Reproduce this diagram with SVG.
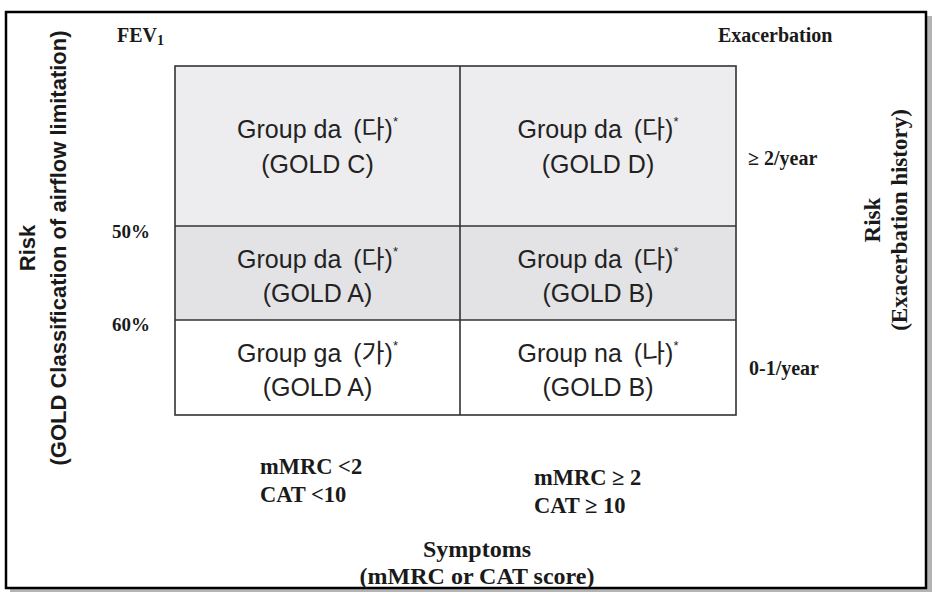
<svg xmlns="http://www.w3.org/2000/svg" width="932" height="592" viewBox="0 0 932 592">
<style>
.cell{font-family:"Liberation Sans","Noto Sans CJK KR",sans-serif;font-size:25px;fill:#222;text-anchor:middle}
.ast{font-size:13px}
.ser{font-family:"Liberation Serif","Times New Roman",serif;font-weight:bold;fill:#1a1a1a}
.axl{font-family:"Liberation Sans",Arial,sans-serif;font-weight:bold;font-size:22px;fill:#1a1a1a;text-anchor:middle}
.grid{stroke:#333;stroke-width:1.6;fill:none}
</style>
<rect x="0" y="0" width="932" height="592" fill="#fff"/>
<rect x="10" y="16" width="922" height="576" fill="#b4b4b4"/>
<rect x="6" y="12" width="920" height="576" fill="#fff" stroke="#000" stroke-width="2.5"/>

<g id="cell-gold-c">
<rect x="175" y="66" width="285" height="160" fill="#ededef"/>
<text class="cell" x="317.5" y="138">Group da <tspan dx="5">(다)</tspan><tspan class="ast" dy="-12">*</tspan></text>
<text class="cell" x="317.5" y="173">(GOLD C)</text>
</g>
<g id="cell-gold-d">
<rect x="460" y="66" width="276" height="160" fill="#ededef"/>
<text class="cell" x="598" y="138">Group da <tspan dx="5">(다)</tspan><tspan class="ast" dy="-12">*</tspan></text>
<text class="cell" x="598" y="173">(GOLD D)</text>
</g>
<g id="cell-gold-a-da">
<rect x="175" y="226" width="285" height="94" fill="#e3e3e5"/>
<text class="cell" x="317.5" y="268">Group da <tspan dx="5">(다)</tspan><tspan class="ast" dy="-12">*</tspan></text>
<text class="cell" x="317.5" y="302">(GOLD A)</text>
</g>
<g id="cell-gold-b-da">
<rect x="460" y="226" width="276" height="94" fill="#e3e3e5"/>
<text class="cell" x="598" y="268">Group da <tspan dx="5">(다)</tspan><tspan class="ast" dy="-12">*</tspan></text>
<text class="cell" x="598" y="302">(GOLD B)</text>
</g>
<g id="cell-gold-a-ga">
<rect x="175" y="320" width="285" height="95" fill="#fff"/>
<text class="cell" x="317.5" y="362">Group ga <tspan dx="5">(가)</tspan><tspan class="ast" dy="-12">*</tspan></text>
<text class="cell" x="317.5" y="396">(GOLD A)</text>
</g>
<g id="cell-gold-b-na">
<rect x="460" y="320" width="276" height="95" fill="#fff"/>
<text class="cell" x="598" y="362">Group na <tspan dx="5">(나)</tspan><tspan class="ast" dy="-12">*</tspan></text>
<text class="cell" x="598" y="396">(GOLD B)</text>
</g>

<g id="connectors">
<rect class="grid" x="175" y="66" width="561" height="349"/>
<line class="grid" x1="460" y1="66" x2="460" y2="415"/>
<line class="grid" x1="175" y1="226" x2="736" y2="226"/>
<line class="grid" x1="175" y1="320" x2="736" y2="320"/>
</g>

<g id="labels">
<text class="ser" x="117" y="42" font-size="20">FEV<tspan font-size="14" dy="3">1</tspan></text>
<text class="ser" x="718" y="42" font-size="20">Exacerbation</text>
<text class="ser" x="112" y="238" font-size="19">50%</text>
<text class="ser" x="112" y="331" font-size="19">60%</text>
<text class="ser" x="748" y="165" font-size="20">≥ 2/year</text>
<text class="ser" x="749" y="375" font-size="20">0-1/year</text>
<text class="ser" x="260" y="474" font-size="22.5">mMRC &lt;2</text>
<text class="ser" x="260" y="502" font-size="22.5">CAT &lt;10</text>
<text class="ser" x="534" y="485" font-size="22.5">mMRC ≥ 2</text>
<text class="ser" x="534" y="513" font-size="22.5">CAT ≥ 10</text>
<text class="ser" x="477" y="557" font-size="24" text-anchor="middle">Symptoms</text>
<text class="ser" x="477" y="584" font-size="24" text-anchor="middle">(mMRC or CAT score)</text>
<text class="axl" transform="translate(35,248) rotate(-90)">Risk</text>
<text class="axl" transform="translate(66,248) rotate(-90)">(GOLD Classification of airflow limitation)</text>
<text class="ser" font-size="23" text-anchor="middle" transform="translate(880,220) rotate(-90)">Risk</text>
<text class="ser" font-size="23" text-anchor="middle" transform="translate(907,220) rotate(-90)">(Exacerbation history)</text>
</g>
</svg>
